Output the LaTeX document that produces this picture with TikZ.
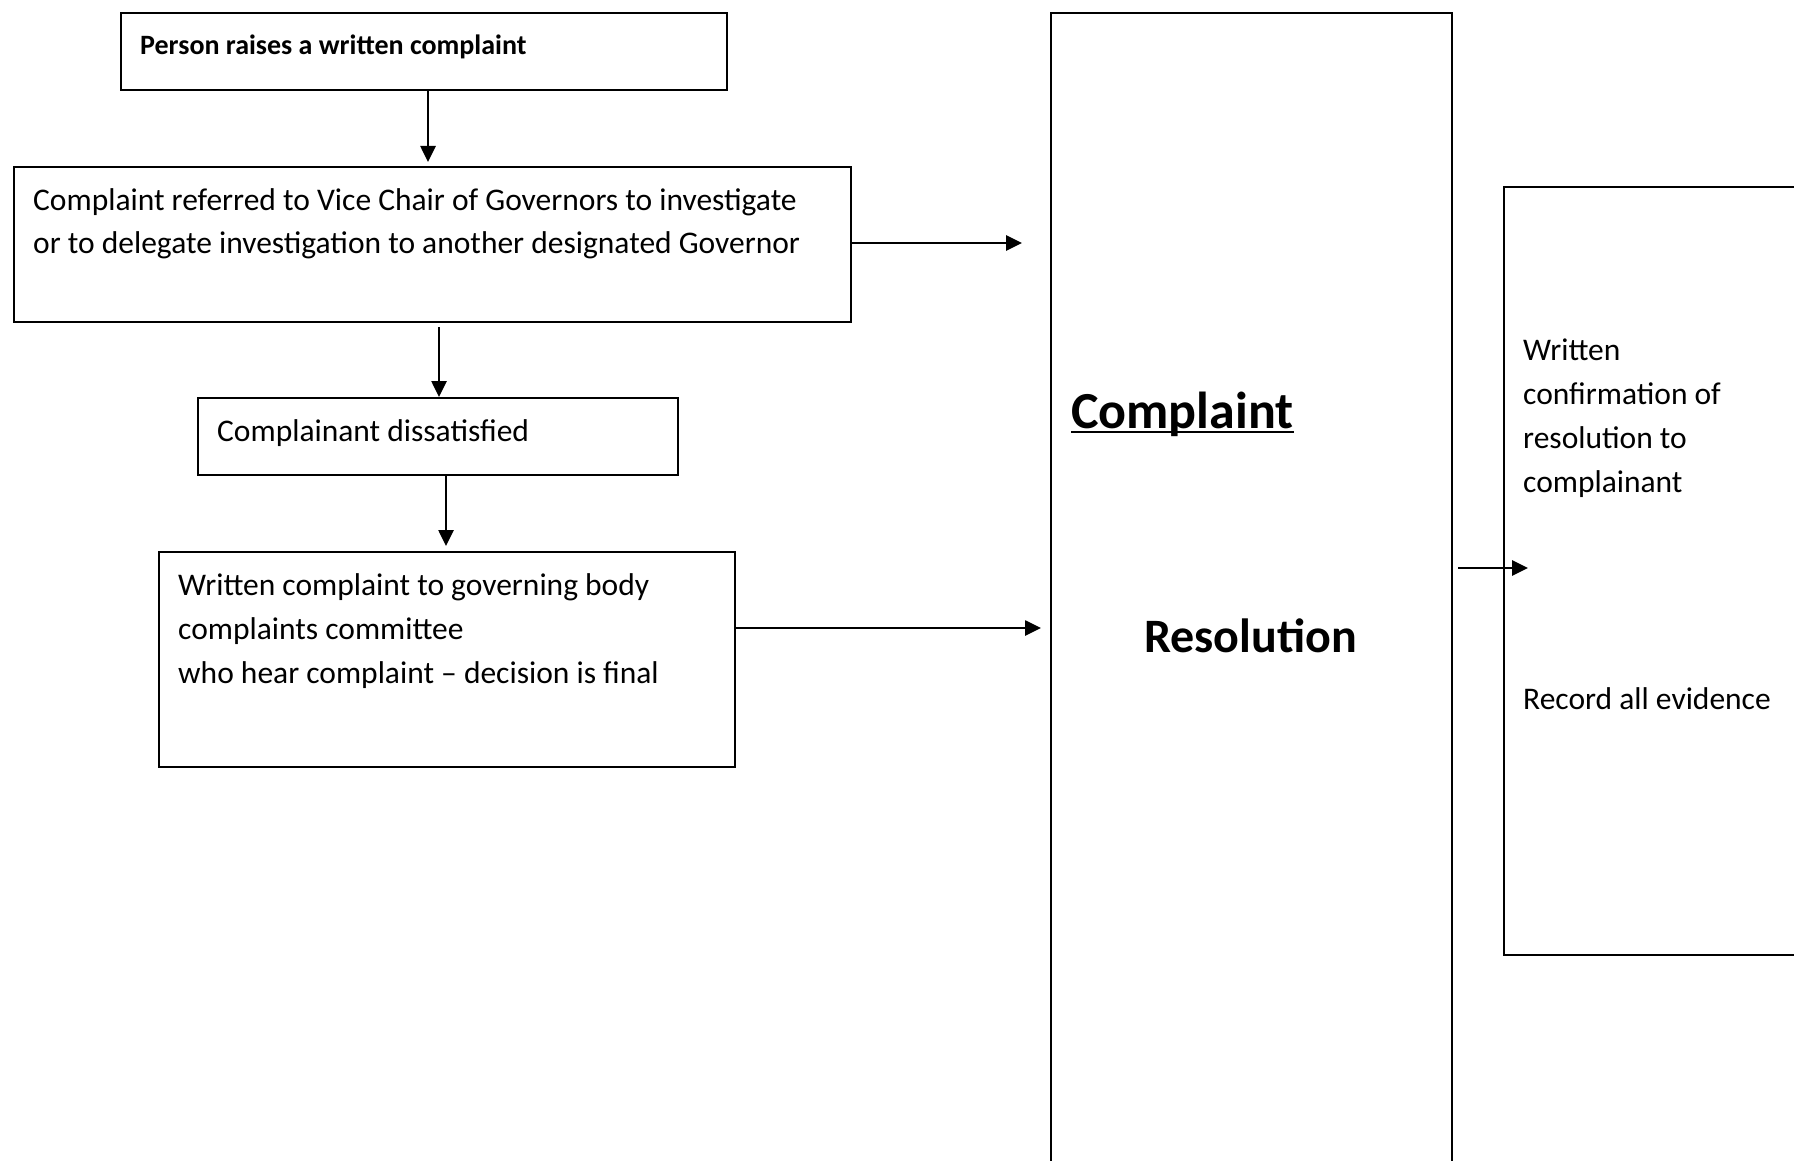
\documentclass[tikz,border=0pt]{standalone}
\usepackage{fontspec}
\setmainfont{Carlito}
\usetikzlibrary{arrows.meta}
\tikzset{
  box/.style={draw, line width=2.3pt, anchor=north west, inner sep=0pt, rectangle},
  txt/.style={inner sep=0pt, anchor=base west, font=\fontsize{31.5}{38}\selectfont},
  smalltxt/.style={inner sep=0pt, anchor=base west, font=\fontsize{28}{34}\selectfont\bfseries},
  bigtxt/.style={inner sep=0pt, anchor=base west, font=\fontsize{52}{60}\selectfont\bfseries},
  arr/.style={line width=2.6pt, -{Triangle[length=16pt,width=15pt]}},
}
\begin{document}
\begin{tikzpicture}[x=1pt,y=-1pt]
\useasboundingbox (0,0) rectangle (1794,1161);
\clip (0,0) rectangle (1794,1161);
\fill[white] (0,0) rectangle (1794,1161);

% boxes
\node[box, minimum width=606pt, minimum height=77pt] (b1) at (120,12) {};
\node[box, minimum width=837pt, minimum height=155pt] (b2) at (13,166) {};
\node[box, minimum width=480pt, minimum height=77pt] (b3) at (197,397) {};
\node[box, minimum width=576pt, minimum height=215pt] (b4) at (158,551) {};
\node[box, line width=2pt, minimum width=401pt, minimum height=1200pt] (big) at (1050,12) {};
\node[box, line width=2pt, minimum width=400pt, minimum height=768pt] (rb) at (1503,186) {};

% texts
\node[smalltxt] (t1) at (140,55) {Person raises a written complaint};
\node[txt] (t2a) at (33,211) {Complaint referred to Vice Chair of Governors to investigate};
\node[txt] (t2b) at (33,254) {or to delegate investigation to another designated Governor};
\node[txt] (t3) at (217,441) {Complainant dissatisfied};
\node[txt] (t4a) at (178,595) {Written complaint to governing body};
\node[txt] (t4b) at (178,639) {complaints committee};
\node[txt] (t4c) at (178,683) {who hear complaint – decision is final};
\node[bigtxt] (cw) at (1071,428) {Complaint};
\draw[line width=2pt] ([yshift=-4pt]cw.base west) -- ([yshift=-4pt]cw.base east);
\node[bigtxt, font=\fontsize{48}{56}\selectfont\bfseries] (rw) at (1144,652) {Resolution};
\node[txt] (r1) at (1523,360) {Written};
\node[txt] (r2) at (1523,404) {confirmation of};
\node[txt] (r3) at (1523,448) {resolution to};
\node[txt] (r4) at (1523,492) {complainant};
\node[txt] (r5) at (1523,709) {Record all evidence};

% connectors
\coordinate (xa) at (428,0);
\coordinate (xb) at (439,0);
\coordinate (xc) at (446,0);
\draw[arr, shorten >=4pt] (b1.south -| xa) -- (b2.north -| xa);
\draw[arr, shorten <=4pt] (b2.south -| xb) -- (b3.north -| xb);
\draw[arr, shorten >=5pt] (b3.south -| xc) -- (b4.north -| xc);
\coordinate (ya) at (0,243);
\coordinate (yb) at (0,628);
\coordinate (yc) at (0,568);
\draw[arr, shorten >=28pt] (b2.east |- ya) -- (big.west |- ya);
\draw[arr, shorten >=9pt] (b4.east |- yb) -- (big.west |- yb);
\draw[arr, shorten <=5pt, shorten >=-25pt] (big.east |- yc) -- (rb.west |- yc);
\end{tikzpicture}
\end{document}
